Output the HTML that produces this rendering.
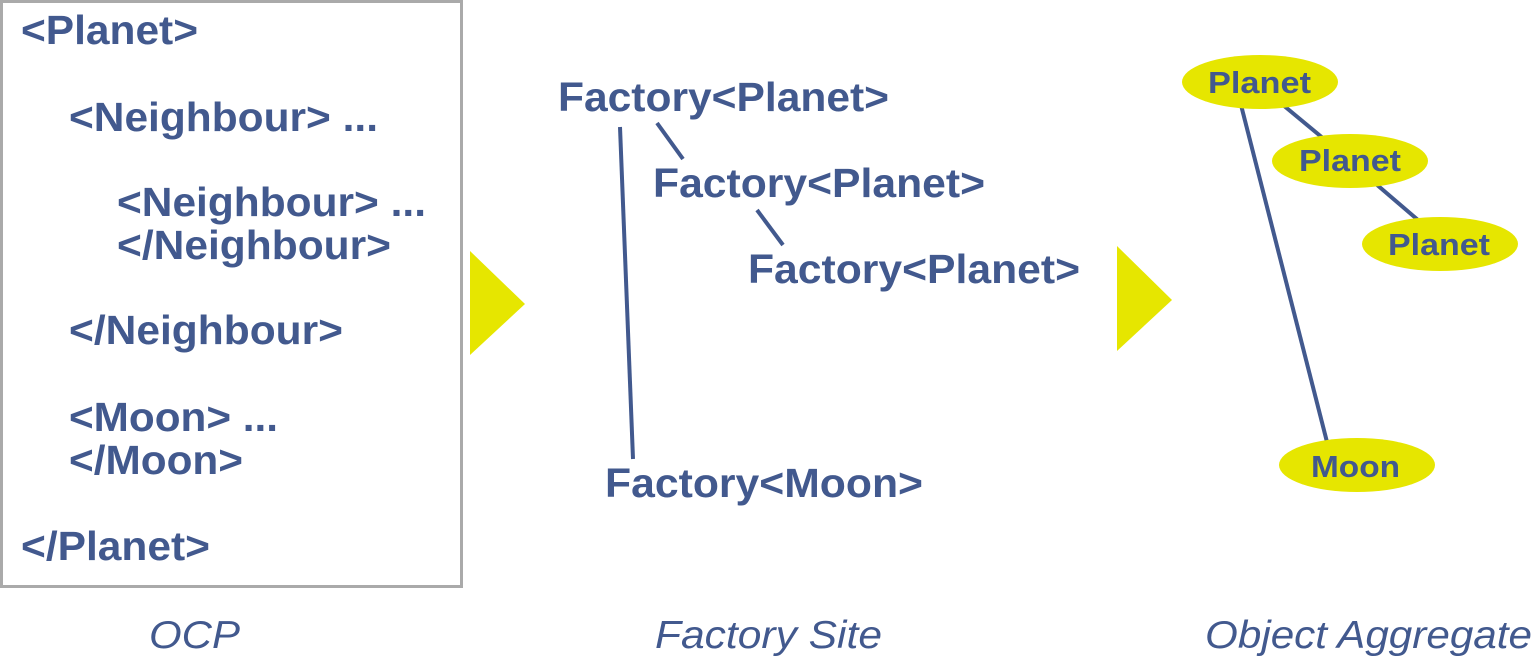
<!DOCTYPE html>
<html>
<head>
<meta charset="utf-8">
<style>
  html, body { margin: 0; padding: 0; background: #ffffff; }
  body { width: 1534px; height: 658px; overflow: hidden; }
  svg { display: block; }
  .b { font-family: "Liberation Sans", sans-serif; font-weight: bold; fill: #42598e; }
  .i { font-family: "Liberation Sans", sans-serif; font-style: italic; font-weight: normal; fill: #42598e; }
</style>
</head>
<body>
<svg width="1534" height="658" viewBox="0 0 1534 658" xmlns="http://www.w3.org/2000/svg">
  <!-- OCP box -->
  <rect x="1.5" y="1.5" width="460" height="585" fill="#ffffff" stroke="#aaaaaa" stroke-width="3"/>

  <text class="b" font-size="41" x="21" y="44" textLength="177" lengthAdjust="spacingAndGlyphs">&lt;Planet&gt;</text>
  <text class="b" font-size="41" x="69" y="131" textLength="309" lengthAdjust="spacingAndGlyphs">&lt;Neighbour&gt; ...</text>
  <text class="b" font-size="41" x="117" y="216" textLength="309" lengthAdjust="spacingAndGlyphs">&lt;Neighbour&gt; ...</text>
  <text class="b" font-size="41" x="117" y="259" textLength="274" lengthAdjust="spacingAndGlyphs">&lt;/Neighbour&gt;</text>
  <text class="b" font-size="41" x="69" y="344" textLength="274" lengthAdjust="spacingAndGlyphs">&lt;/Neighbour&gt;</text>
  <text class="b" font-size="41" x="69" y="431" textLength="209" lengthAdjust="spacingAndGlyphs">&lt;Moon&gt; ...</text>
  <text class="b" font-size="41" x="69" y="474" textLength="174" lengthAdjust="spacingAndGlyphs">&lt;/Moon&gt;</text>
  <text class="b" font-size="41" x="21" y="560" textLength="189" lengthAdjust="spacingAndGlyphs">&lt;/Planet&gt;</text>

  <!-- Arrows -->
  <polygon points="470,251 470,355 525,304" fill="#e6e600"/>
  <polygon points="1117,246 1117,351 1172,300" fill="#e6e600"/>

  <!-- Factory Site -->
  <line x1="620" y1="127" x2="633" y2="459" stroke="#42598e" stroke-width="4"/>
  <line x1="657" y1="123" x2="683" y2="159" stroke="#42598e" stroke-width="4"/>
  <line x1="757" y1="210" x2="783" y2="245" stroke="#42598e" stroke-width="4"/>

  <text class="b" font-size="41" x="558" y="111" textLength="331" lengthAdjust="spacingAndGlyphs">Factory&lt;Planet&gt;</text>
  <text class="b" font-size="41" x="653" y="197" textLength="332" lengthAdjust="spacingAndGlyphs">Factory&lt;Planet&gt;</text>
  <text class="b" font-size="41" x="748" y="283" textLength="332" lengthAdjust="spacingAndGlyphs">Factory&lt;Planet&gt;</text>
  <text class="b" font-size="41" x="605" y="497" textLength="318" lengthAdjust="spacingAndGlyphs">Factory&lt;Moon&gt;</text>

  <!-- Object Aggregate -->
  <line x1="1241" y1="105" x2="1327" y2="442" stroke="#42598e" stroke-width="4"/>
  <line x1="1283" y1="105" x2="1324" y2="139" stroke="#42598e" stroke-width="4"/>
  <line x1="1376" y1="184" x2="1418" y2="220" stroke="#42598e" stroke-width="4"/>

  <ellipse cx="1260" cy="82" rx="78" ry="27" fill="#e6e600"/>
  <ellipse cx="1350" cy="161" rx="78" ry="27" fill="#e6e600"/>
  <ellipse cx="1440" cy="244" rx="78" ry="27" fill="#e6e600"/>
  <ellipse cx="1357" cy="465" rx="78" ry="27" fill="#e6e600"/>

  <text class="b" font-size="31" x="1208" y="93" textLength="103" lengthAdjust="spacingAndGlyphs">Planet</text>
  <text class="b" font-size="31" x="1299" y="171" textLength="102" lengthAdjust="spacingAndGlyphs">Planet</text>
  <text class="b" font-size="31" x="1388" y="255" textLength="102" lengthAdjust="spacingAndGlyphs">Planet</text>
  <text class="b" font-size="31" x="1311" y="477" textLength="89" lengthAdjust="spacingAndGlyphs">Moon</text>

  <!-- Captions -->
  <text class="i" font-size="39" x="149" y="648" textLength="91" lengthAdjust="spacingAndGlyphs">OCP</text>
  <text class="i" font-size="39" x="655" y="648" textLength="227" lengthAdjust="spacingAndGlyphs">Factory Site</text>
  <text class="i" font-size="39" x="1205" y="648" textLength="327" lengthAdjust="spacingAndGlyphs">Object Aggregate</text>
</svg>
</body>
</html>
